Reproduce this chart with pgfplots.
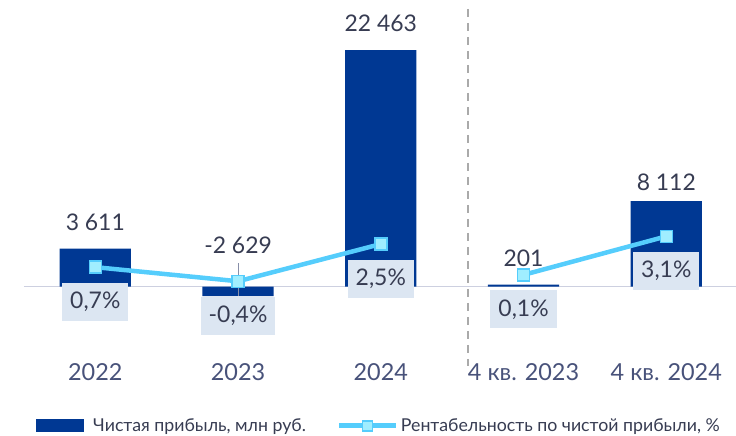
\documentclass[border=0pt]{standalone}
\usepackage{fontspec}
\setmainfont{Lato}
\usepackage{pgfplots}
\pgfplotsset{compat=1.18}
\definecolor{barblue}{RGB}{0,56,147}
\definecolor{linec}{RGB}{85,205,252}
\definecolor{markc}{RGB}{160,238,255}
\definecolor{boxc}{RGB}{220,230,242}
\definecolor{basec}{RGB}{205,208,224}
\definecolor{valc}{RGB}{55,60,82}
\definecolor{catc}{RGB}{72,82,122}
\definecolor{dashc}{RGB}{170,170,170}
\definecolor{leadc}{RGB}{135,142,168}
\newcommand{\valfont}{\fontsize{23}{27}\selectfont}
\newcommand{\catfont}{\fontsize{23.5}{28}\selectfont}
\pgfplotsset{pctline/.style={linec, line width=4.5bp, mark=square*, mark size=6bp,
  mark options={fill=markc, draw=linec, line width=1.5bp},
  nodes near coords, point meta=explicit symbolic,
  every node near coord/.style={anchor=center, yshift=-34.5bp, fill=boxc,
    inner xsep=8bp, inner ysep=0pt, minimum width=66bp, minimum height=38bp,
    font=\valfont, text=valc}}}
\begin{document}
\begin{tikzpicture}
\begin{axis}[
  name=ax,
  scale only axis, width=736bp, height=436bp,
  xmin=-0.6676, xmax=4.4883, ymin=-14169, ymax=27209,
  hide axis, clip=false,
  legend columns=2,
  legend style={draw=none, fill=none, inner sep=0pt,
    at={(axis description cs:0.0489,0.0235)}, anchor=west,
    font=\fontsize{17.8}{21}\selectfont, text=valc,
    nodes={inner sep=0pt},
    /tikz/every odd column/.style={column sep=2bp},
    /tikz/every even column/.style={column sep=31bp}},
]
\draw[basec, line width=1.5bp] (axis cs:-0.5,0) -- (axis cs:4.4883,0);
\draw[dashc, line width=2bp, dash pattern=on 8bp off 6bp] (axis cs:2.609,26356) -- (axis cs:2.609,-7526);
\addplot[ybar, bar width=0.5, fill=barblue, draw=none,
  legend image code/.code={\fill[barblue] (0bp,-6.5bp) rectangle (48bp,6.5bp); \path (55bp,0bp);}]
  coordinates {(0,3611) (1,-883) (2,22463) (3,201) (4,8112)};
\addlegendentry{Чистая прибыль, млн руб.}
\addlegendimage{legend image code/.code={
  \draw[linec, line width=5bp] (0bp,0bp) -- (57bp,0bp);
  \draw[linec, fill=markc, line width=1.5bp] (23bp,-5bp) rectangle (33bp,5bp);}}
\addlegendentry{Рентабельность по чистой прибыли, \%}
\draw[leadc, line width=1bp] (axis cs:1,2249) -- (axis cs:1,-883);
\node[font=\valfont, text=valc] at (axis cs:0,6093) {3 611};
\node[font=\valfont, text=valc] at (axis cs:1,3910) {-2 629};
\node[font=\valfont, text=valc] at (axis cs:2,24979) {22 463};
\node[font=\valfont, text=valc] at (axis cs:3,2676) {201};
\node[font=\valfont, text=valc] at (axis cs:4,9889) {8 112};
\node[font=\catfont, text=catc] at (axis cs:0,-8095) {2022};
\node[font=\catfont, text=catc] at (axis cs:1,-8095) {2023};
\node[font=\catfont, text=catc] at (axis cs:2,-8095) {2024};
\node[font=\catfont, text=catc] at (axis cs:3,-8095) {4 кв. 2023};
\node[font=\catfont, text=catc] at (axis cs:4,-8095) {4 кв. 2024};
\end{axis}
\begin{axis}[
  scale only axis, width=736bp, height=436bp,
  xmin=-0.6676, xmax=4.4883, ymin=-12.460, ymax=21.523,
  hide axis, clip=false,
]
\addplot[pctline]
  coordinates {(0,0.7) [0,7\%] (1,-0.4) [-0,4\%] (2,2.5) [2,5\%]};
\addplot[pctline]
  coordinates {(3,0.1) [0,1\%] (4,3.1) [3,1\%]};
\end{axis}
\pgfresetboundingbox
\path[use as bounding box] (ax.south west) rectangle (ax.north east);
\end{tikzpicture}
\end{document}
